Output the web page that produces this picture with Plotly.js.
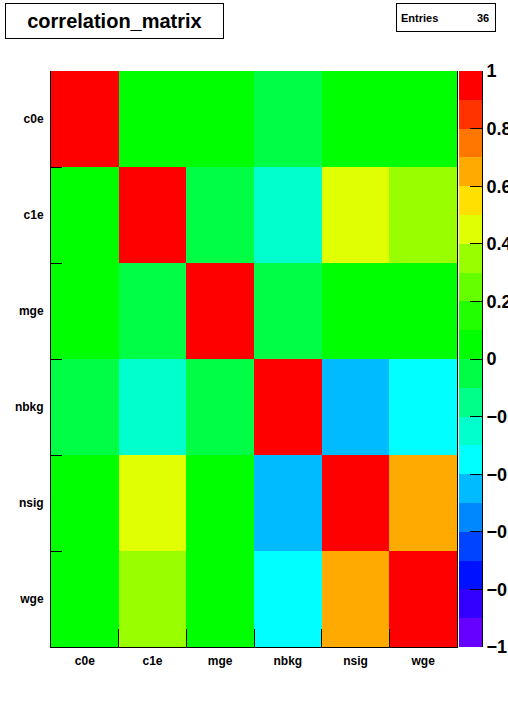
<!DOCTYPE html>
<html>
<head>
<meta charset="utf-8">
<script src="https://cdn.plot.ly/plotly-3.0.1.min.js"></script>
<style>
  html, body { margin: 0; padding: 0; background: #fff; }
  #chart { width: 508px; height: 719px; }
</style>
</head>
<body>
<div id="chart"></div>
<script>
// variables, same order on both axes
const vars = ['c0e', 'c1e', 'mge', 'nbkg', 'nsig', 'wge'];

// correlation coefficients, row by row
const rowC0e  = [ 1.00,  0.02,  0.03, -0.05,  0.04,  0.03];
const rowC1e  = [ 0.02,  1.00, -0.06, -0.25,  0.45,  0.35];
const rowMge  = [ 0.03, -0.06,  1.00, -0.07,  0.02,  0.01];
const rowNbkg = [-0.05, -0.25, -0.07,  1.00, -0.45, -0.35];
const rowNsig = [ 0.04,  0.45,  0.02, -0.45,  1.00,  0.65];
const rowWge  = [ 0.03,  0.35,  0.01, -0.35,  0.65,  1.00];

const entries = 36;

// colour bar: one band per palette level, and its ticks
const cbLevels = [-0.95, -0.85, -0.75, -0.65, -0.55, -0.45, -0.35, -0.25, -0.15, -0.05,
                   0.05,  0.15,  0.25,  0.35,  0.45,  0.55,  0.65,  0.75,  0.85,  0.95];
const cbTicks = [-1, -0.8, -0.6, -0.4, -0.2, 0, 0.2, 0.4, 0.6, 0.8, 1];

// 20-step palette, from -1 up to 1
const palette = [
  '#6600ff', '#3300ff', '#0011ff', '#0044ff', '#0088ff',
  '#00bbff', '#00ffff', '#00ffcc', '#00ff88', '#00ff44',
  '#00ff00', '#22ff00', '#66ff00', '#99ff00', '#e0ff00',
  '#ffe000', '#ffaa00', '#ff7700', '#ff3300', '#ff0000'
];

const colorscale = [];
palette.forEach((c, i) => {
  colorscale.push([i / palette.length, c]);
  colorscale.push([(i + 1) / palette.length, c]);
});

// frame in pixels
const W = 508, H = 719;
const L = 51, R = 457, T = 71, B = 647;
const CB0 = 459, CB1 = 482;           // colour bar left / right
const span = CB1 - L;
const px = x => (x - L) / span;
const py = y => (B - y) / (B - T);

const font = { family: 'Liberation Sans, Arial, sans-serif', color: '#000', weight: 'bold' };

const matrix = {
  type: 'heatmap',
  x: vars,
  y: vars,
  z: [rowC0e, rowC1e, rowMge, rowNbkg, rowNsig, rowWge],
  zmin: -1,
  zmax: 1,
  colorscale: colorscale,
  showscale: false,
  xaxis: 'x',
  yaxis: 'y'
};

const bar = {
  type: 'heatmap',
  x: [0],
  y: cbLevels,
  z: cbLevels.map(v => [v]),
  zmin: -1,
  zmax: 1,
  colorscale: colorscale,
  showscale: false,
  xaxis: 'x2',
  yaxis: 'y2'
};

const layout = {
  width: W,
  height: H,
  margin: { l: L, r: W - CB1, t: T, b: H - B, pad: 0 },
  paper_bgcolor: '#fff',
  plot_bgcolor: '#fff',
  showlegend: false,
  xaxis: {
    type: 'category',
    domain: [0, px(R)],
    showgrid: false,
    zeroline: false,
    showline: true,
    linecolor: '#000',
    linewidth: 1,
    ticks: 'inside',
    tickson: 'boundaries',
    ticklen: 18,
    tickcolor: '#000',
    ticklabelstandoff: 3,
    tickfont: Object.assign({ size: 12 }, font),
    fixedrange: true
  },
  yaxis: {
    type: 'category',
    autorange: 'reversed',
    showgrid: false,
    zeroline: false,
    showline: true,
    mirror: true,
    linecolor: '#000',
    linewidth: 1,
    ticks: 'inside',
    tickson: 'boundaries',
    ticklen: 11,
    tickcolor: '#000',
    ticklabelstandoff: 4,
    tickfont: Object.assign({ size: 12 }, font),
    fixedrange: true
  },
  xaxis2: {
    domain: [px(CB0), 1],
    anchor: 'y2',
    showgrid: false,
    zeroline: false,
    showline: false,
    showticklabels: false,
    ticks: '',
    fixedrange: true
  },
  yaxis2: {
    anchor: 'x2',
    side: 'right',
    range: [-1, 1],
    showgrid: false,
    zeroline: false,
    showline: true,
    linecolor: '#000',
    linewidth: 1,
    tickmode: 'array',
    tickvals: cbTicks,
    ticks: 'inside',
    ticklen: 12,
    tickcolor: '#000',
    tickfont: Object.assign({ size: 18 }, font),
    automargin: false,
    fixedrange: true
  },
  annotations: [
    { text: 'correlation_matrix', xref: 'paper', yref: 'paper',
      x: px(114.5), y: py(21), xanchor: 'center', yanchor: 'middle',
      width: 217, height: 34, showarrow: false,
      bordercolor: '#000', borderwidth: 1, borderpad: 0, bgcolor: '#fff',
      font: Object.assign({ size: 20 }, font) },
    { text: 'Entries', xref: 'paper', yref: 'paper',
      x: px(446), y: py(17.5), xanchor: 'center', yanchor: 'middle',
      width: 90, height: 19, align: 'left', showarrow: false,
      bordercolor: '#000', borderwidth: 1, borderpad: 4, bgcolor: '#fff',
      font: Object.assign({ size: 11 }, font) },
    { text: String(entries), xref: 'paper', yref: 'paper',
      x: px(491), y: py(17.5), xanchor: 'right', yanchor: 'middle',
      showarrow: false,
      font: Object.assign({ size: 11 }, font) }
  ]
};

Plotly.newPlot('chart', [matrix, bar], layout, { displayModeBar: false, staticPlot: true });
</script>
</body>
</html>
